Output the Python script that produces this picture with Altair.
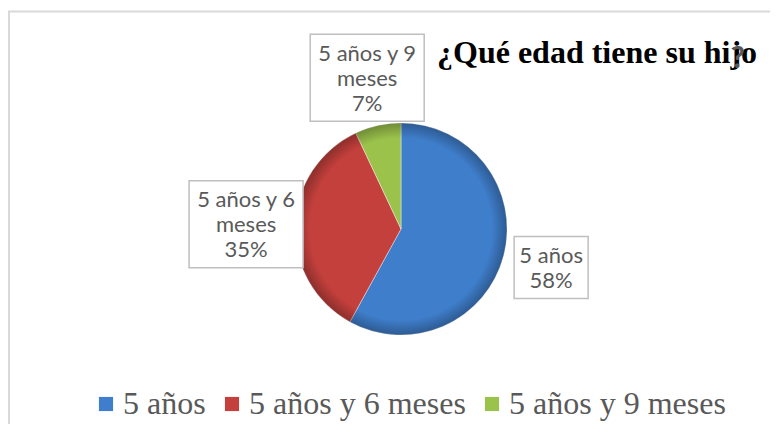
import altair as alt
import pandas as pd
import textwrap

# ---- data ----
categories = ["5 años", "5 años y 6 meses", "5 años y 9 meses"]
percent = [58, 35, 7]
colors = ["#3F7ECB", "#C3403C", "#9BC24B"]
title_text = "¿Qué edad tiene su hijo"
title_mark = "?"

# label lines (category wrapped like the reference, then percentage)
label_lines = ["|".join(textwrap.wrap(c, 10) + [f"{p}%"]) for c, p in zip(categories, percent)]
nchar = [max(len(s) for s in l.split("|")) for l in label_lines]
nline = [len(l.split("|")) for l in label_lines]

df = pd.DataFrame({
    "cat": categories,
    "val": percent,
    "ord": list(range(len(categories))),
    "lab": label_lines,
    "nchar": nchar,
    "nline": nline,
})

CX, CY, R = 393, 221, 106   # pie centre / radius (pixels in the view)
LR = 155                     # distance of the data labels from the centre
LH = 25                      # label line height

one = pd.DataFrame({"a": [0]})

frame = alt.Chart(one).mark_rect(fill="transparent", stroke="#D9D9D9", strokeWidth=2).encode(
    x=alt.value(1), x2=alt.value(1200), y=alt.value(3.5), y2=alt.value(1000)
)

base = alt.Chart(df)

pie = base.mark_arc(outerRadius=R, stroke="#FFFFFF", strokeWidth=0.8, strokeOpacity=0.5).encode(
    theta=alt.Theta("val:Q", stack=True),
    order=alt.Order("ord:Q"),
    color=alt.Color(
        "cat:N",
        scale=alt.Scale(domain=categories, range=colors),
        legend=alt.Legend(
            title=None, orient="none", legendX=82, legendY=380, direction="horizontal",
            symbolType="square", symbolSize=200, symbolStrokeWidth=0,
            labelFont="Liberation Serif", labelFontSize=32, labelColor="#595959",
            labelOffset=1, columnPadding=10, labelLimit=0, symbolOpacity=1,
        ),
    ),
    x=alt.value(CX),
    y=alt.value(CY),
)

shade = alt.Chart(one).mark_arc(
    outerRadius=R, theta=0, theta2=6.2832,
    fill={
        "gradient": "radial", "x1": 0.5, "y1": 0.5, "x2": 0.5, "y2": 0.5, "r1": 0, "r2": 0.5,
        "stops": [
            {"offset": 0, "color": "rgba(0,0,0,0)"},
            {"offset": 0.86, "color": "rgba(0,0,0,0)"},
            {"offset": 1, "color": "rgba(0,0,0,0.28)"},
        ],
    },
).encode(x=alt.value(CX), y=alt.value(CY))

lab = base.transform_joinaggregate(total="sum(val)").transform_window(
    cum="sum(val)", sort=[alt.SortField("ord")], frame=[None, 0]
).transform_calculate(
    mid="(datum.cum - datum.val/2) / datum.total * 2 * PI",
    lx=f"{CX} + {LR} * sin(datum.mid)",
    ly=f"{CY} - {LR} * cos(datum.mid)",
    ty=f"datum.ly - (datum.nline - 1) * {LH} / 2",
    bw="datum.nchar * 10 + 14",
    bh=f"datum.nline * {LH} + 12",
    bx1="datum.lx - datum.bw / 2",
    bx2="datum.lx + datum.bw / 2",
    by1="datum.ly - datum.bh / 2",
    by2="datum.ly + datum.bh / 2",
)

boxes = lab.mark_rect(fill="white", stroke="#BFBFBF", strokeWidth=1.5).encode(
    x=alt.X("bx1:Q", scale=None, axis=None),
    x2="bx2:Q",
    y=alt.Y("by1:Q", scale=None, axis=None),
    y2="by2:Q",
)

labels = lab.mark_text(
    font="Lato", fontSize=22, lineHeight=LH, color="#595959",
    align="center", baseline="middle", lineBreak="|", dy=1,
).encode(
    x=alt.X("lx:Q", scale=None, axis=None),
    y=alt.Y("ty:Q", scale=None, axis=None),
    text="lab:N",
)

title = alt.Chart(pd.DataFrame({"t": [title_text]})).mark_text(
    font="Liberation Serif", fontSize=32, fontWeight="bold", align="left",
    baseline="alphabetic", color="#000000",
).encode(x=alt.value(429), y=alt.value(55), text="t:N")

qmark = alt.Chart(pd.DataFrame({"t": [title_mark]})).mark_text(
    font="Lato", fontSize=30, fontWeight="bold", align="center",
    baseline="alphabetic", color="#595959",
).encode(x=alt.value(730), y=alt.value(60), text="t:N")

chart = alt.layer(frame, pie, shade, boxes, labels, title, qmark).properties(
    width=762, height=416, padding=0,
    autosize=alt.AutoSizeParams(type="fit", contains="padding"),
).configure_view(stroke=None)

chart.save("out.html", embed_options={"renderer": "svg", "actions": False})
